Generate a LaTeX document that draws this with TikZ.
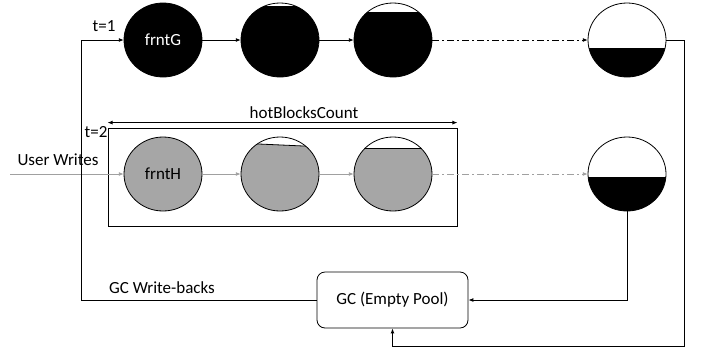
\documentclass[tikz,border=0pt]{standalone}
\usepackage{fontspec}
\setmainfont{Carlito}
\usetikzlibrary{arrows.meta,shapes.geometric}

\definecolor{blockgray}{HTML}{A6A6A6}
\definecolor{linegray}{HTML}{A0A0A0}

\tikzset{
  blockc/.style={ellipse, minimum width=78pt, minimum height=74pt, inner sep=0pt},
  outline/.style={draw=black, line width=0.8pt},
  conn/.style={line width=0.9pt, -{Latex[length=5pt,width=4pt]}},
  gconn/.style={line width=0.9pt, draw=linegray, -{Latex[length=5pt,width=4pt]}},
  dashdot/.style={dash pattern=on 7pt off 3pt on 2pt off 3pt},
  lbl/.style={font=\fontsize{17}{20}\selectfont, inner sep=0pt},
}

\begin{document}
\begin{tikzpicture}[x=1pt, y=-1pt]
\useasboundingbox (0,0) rectangle (701,349);

% block nodes (outlines drawn after the fills)
\node[blockc] (g1) at (163,40) {};
\node[blockc] (g2) at (280,40) {};
\node[blockc] (g3) at (393,40) {};
\node[blockc] (g4) at (627,40) {};
\node[blockc] (h1) at (163,174) {};
\node[blockc] (h2) at (280,174) {};
\node[blockc] (h3) at (393,174) {};
\node[blockc] (h4) at (627,174) {};

% hot block frame
\node[draw, line width=0.8pt, minimum width=349pt, minimum height=98pt, inner sep=0pt] (hotbox) at (282.5,177) {};

% fill levels of each block
\begin{scope}
  \clip (g1.center) ellipse [x radius=39, y radius=37];
  \fill[black] (124,0) rectangle (202,80);
\end{scope}
\begin{scope}
  \clip (g2.center) ellipse [x radius=39, y radius=37];
  \fill[black] (241,6) rectangle (319,80);
\end{scope}
\begin{scope}
  \clip (g3.center) ellipse [x radius=39, y radius=37];
  \fill[black] (354,12) rectangle (432,80);
\end{scope}
\begin{scope}
  \clip (g4.center) ellipse [x radius=39, y radius=37];
  \fill[black] (588,48) rectangle (666,80);
  \draw[line width=0.8pt] (588,48) -- (666,48);
\end{scope}
\begin{scope}
  \clip (h1.center) ellipse [x radius=39, y radius=37];
  \fill[blockgray] (124,130) rectangle (202,215);
\end{scope}
\begin{scope}
  \clip (h2.center) ellipse [x radius=39, y radius=37];
  \fill[blockgray] (241,143.2) -- (319,146.7) -- (319,215) -- (241,215) -- cycle;
  \draw[line width=0.8pt] (241,143.2) -- (319,146.7);
\end{scope}
\begin{scope}
  \clip (h3.center) ellipse [x radius=39, y radius=37];
  \fill[blockgray] (354,148) rectangle (432,215);
  \draw[line width=0.8pt] (354,148) -- (432,148);
\end{scope}
\begin{scope}
  \clip (h4.center) ellipse [x radius=39, y radius=37];
  \fill[black] (588,177) rectangle (666,215);
  \draw[line width=0.8pt] (588,177) -- (666,177);
\end{scope}

% block outlines and names
\foreach \b in {g1,g2,g3,g4,h1,h2,h3,h4}
  \draw[outline] (\b.center) ellipse [x radius=39, y radius=37];
\node[lbl, text=white] at (g1) {frntG};
\node[lbl] at (h1) {frntH};

% garbage collector
\node[draw, line width=0.8pt, rounded corners=8pt, minimum width=151pt, minimum height=56pt, lbl] (gc) at (392.5,300) {GC (Empty Pool)};

% top row chain
\draw[conn] (g1) -- (g2);
\draw[conn] (g2) -- (g3);
\draw[conn, dashdot] (g3) -- (g4);

% second row chain
\coordinate (uw) at (10,174);
\draw[gconn] (uw) -- (h1);
\draw[gconn] (h1) -- (h2);
\draw[gconn] (h2) -- (h3);
\draw[gconn, dashdot] (h3) -- (h4);

% hot block count span
\draw[line width=0.8pt, {Latex[length=5pt,width=4pt]}-{Latex[length=5pt,width=4pt]}]
  ([yshift=5pt]hotbox.north west) -- ([yshift=5pt]hotbox.north east);

% returns to the collector and write-backs
\coordinate (rt) at (684,346);
\draw[conn] (g4.east) -| (rt) -| (gc.south);
\draw[conn] (h4.south) |- (gc.east);
\coordinate (lt) at (81,300);
\draw[conn] (gc.west) -- (lt) |- (g1.west);

% labels
\node[lbl] at (104,26) {t=1};
\node[lbl] at (96,132) {t=2};
\node[lbl] at (304,113) {hotBlocksCount};
\node[lbl] at (58,160) {User Writes};
\node[lbl] at (162,288) {GC Write-backs};
\end{tikzpicture}
\end{document}
